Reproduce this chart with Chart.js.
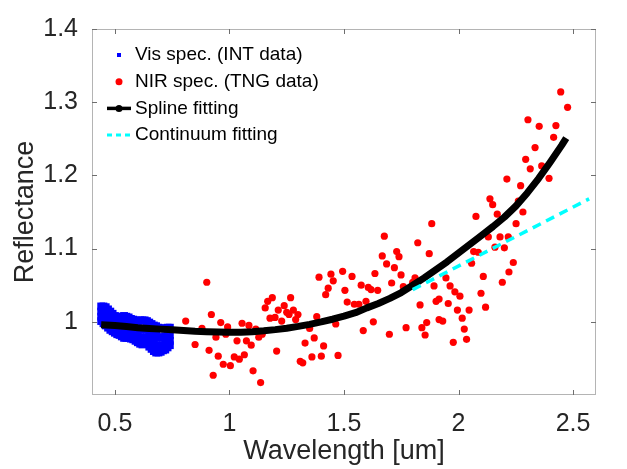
<!DOCTYPE html>
<html>
<head>
<meta charset="utf-8">
<script src="https://cdn.jsdelivr.net/npm/chart.js@4"></script>
<style>
  body { margin: 0; background: #fff; }
  #wrap { width: 627px; height: 469px; }
</style>
</head>
<body>
<div id="wrap"><canvas id="chart" width="627" height="469"></canvas></div>
<script>
// axis ticks
const xTicks = [0.5, 1, 1.5, 2, 2.5];
const yTicks = [1, 1.1, 1.2, 1.3, 1.4];

// Vis spectrum (INT) - dense cloud, four rows per wavelength
const visWave = [0.44, 0.45, 0.46, 0.47, 0.48, 0.49, 0.50, 0.51, 0.52, 0.53, 0.54, 0.55, 0.56, 0.57, 0.58, 0.59,
    0.60, 0.61, 0.62, 0.63, 0.64, 0.65, 0.66, 0.67, 0.68, 0.69, 0.70, 0.71, 0.72, 0.73, 0.74];
const visRow1 = [1.021, 1.021, 1.020, 1.017, 1.014, 1.011, 1.008, 1.007, 1.006, 1.007, 1.008, 1.007, 1.006, 1.004, 1.003, 1.002,
    1.001, 1.002, 1.002, 1.002, 1.001, 0.999, 0.997, 0.995, 0.994, 0.992, 0.991, 0.991, 0.991, 0.992, 0.992];
const visRow2 = [1.014, 1.012, 1.011, 1.008, 1.005, 1.002, 1.000, 0.998, 0.997, 0.997, 0.998, 0.996, 0.996, 0.994, 0.993, 0.991,
    0.990, 0.991, 0.990, 0.989, 0.989, 0.986, 0.984, 0.982, 0.981, 0.979, 0.978, 0.979, 0.980, 0.981, 0.982];
const visRow3 = [1.007, 1.004, 1.002, 0.999, 0.996, 0.993, 0.992, 0.990, 0.989, 0.987, 0.988, 0.986, 0.985, 0.985, 0.983, 0.981,
    0.980, 0.979, 0.978, 0.977, 0.977, 0.974, 0.972, 0.970, 0.968, 0.967, 0.967, 0.968, 0.970, 0.972, 0.974];
const visRow4 = [1.001, 0.998, 0.995, 0.992, 0.989, 0.987, 0.985, 0.983, 0.982, 0.980, 0.978, 0.978, 0.978, 0.977, 0.976, 0.974,
    0.972, 0.970, 0.969, 0.970, 0.970, 0.966, 0.963, 0.960, 0.958, 0.958, 0.959, 0.961, 0.962, 0.965, 0.968];

// NIR spectrum (TNG)
const nirWave = [0.809, 0.901, 0.850, 0.921, 0.880, 0.911, 0.951, 0.929, 0.962, 0.973,
    0.992, 0.984, 0.941, 1.004, 1.033, 1.021, 1.043, 1.055, 1.065, 1.074,
    1.085, 1.095, 1.103, 1.136, 1.128, 1.143, 1.156, 1.167, 1.187, 1.177,
    1.199, 1.206, 1.213, 1.115, 1.228, 1.239, 1.250, 1.260, 1.267, 1.279,
    1.289, 1.299, 1.309, 1.320, 1.330, 1.350, 1.360, 1.370, 1.381, 1.391,
    1.401, 1.411, 1.420, 1.431, 1.443, 1.453, 1.464, 1.474, 1.494, 1.504,
    1.514, 1.535, 1.545, 1.565, 1.575, 1.584, 1.596, 1.606, 1.618, 1.647,
    1.628, 1.635, 1.676, 1.667, 1.686, 1.698, 1.708, 1.720, 1.730, 1.740,
    1.749, 1.759, 1.771, 1.800, 1.810, 1.822, 1.832, 1.840, 1.854, 1.861,
    1.872, 1.883, 1.893, 1.902, 1.915, 1.915, 1.931, 1.945, 1.955, 1.963,
    1.977, 1.984, 1.995, 2.006, 2.016, 2.025, 2.035, 2.046, 2.057, 2.066,
    2.076, 2.086, 2.098, 2.108, 2.118, 2.130, 2.137, 2.149, 2.159, 2.169,
    2.181, 2.191, 2.200, 2.217, 2.220, 2.239, 2.211, 2.251, 2.261, 2.271,
    2.281, 2.293, 2.303, 2.313, 2.334, 2.352, 2.363, 2.395, 2.415, 2.425,
    2.446, 2.476];
const nirRefl = [1.001, 1.054, 0.969, 1.010, 0.991, 0.961, 0.953, 0.927, 0.999, 0.942,
    0.993, 0.983, 0.979, 0.940, 0.974, 0.952, 0.949, 0.998, 0.955, 0.974,
    0.995, 0.968, 0.933, 0.917, 0.979, 0.983, 1.019, 1.028, 1.033, 1.005,
    1.006, 0.960, 1.016, 0.990, 1.001, 1.022, 1.013, 1.010, 1.033, 1.016,
    1.003, 1.010, 0.946, 0.944, 0.971, 0.991, 0.952, 0.978, 1.007, 1.061,
    0.953, 0.967, 1.037, 1.046, 1.065, 1.056, 0.997, 0.954, 1.069, 1.043,
    1.027, 1.062, 1.024, 1.024, 1.050, 0.988, 1.028, 1.047, 1.044, 1.043,
    1.000, 1.066, 1.117, 1.090, 1.079, 0.983, 1.053, 1.074, 1.096, 1.089,
    1.064, 1.048, 0.992, 1.054, 1.060, 1.108, 1.023, 0.992, 0.982, 0.999,
    1.093, 1.134, 1.049, 1.028, 1.031, 1.003, 1.001, 1.060, 1.025, 1.049,
    0.972, 1.041, 1.016, 1.035, 1.005, 0.990, 0.976, 1.016, 1.080, 1.096,
    1.144, 1.095, 1.039, 1.062, 1.020, 1.116, 1.168, 1.160, 1.102, 1.147,
    1.116, 1.054, 1.101, 1.116, 1.068, 1.081, 1.195, 1.134, 1.165, 1.186,
    1.150, 1.222, 1.276, 1.209, 1.238, 1.267, 1.213, 1.196, 1.252, 1.268,
    1.314, 1.293];

// spline fit
const splineWave = [0.44, 0.50, 0.55, 0.60, 0.65, 0.70, 0.75, 0.80, 0.85, 0.90, 0.95, 1.00, 1.05, 1.10, 1.15, 1.20,
    1.25, 1.30, 1.35, 1.40, 1.45, 1.50, 1.55, 1.60, 1.65, 1.70, 1.75, 1.80, 1.85, 1.90, 1.95, 2.00,
    2.05, 2.10, 2.15, 2.20, 2.25, 2.30, 2.35, 2.40, 2.45, 2.47];
const splineRefl = [0.996, 0.995, 0.9935, 0.992, 0.991, 0.990, 0.989, 0.988, 0.987, 0.9864, 0.986, 0.9858, 0.9858, 0.9865, 0.9877, 0.9893,
    0.9913, 0.9937, 0.9965, 0.9998, 1.0035, 1.0077, 1.0125, 1.019, 1.025, 1.032, 1.040, 1.050, 1.060, 1.071, 1.082, 1.094,
    1.106, 1.118, 1.130, 1.143, 1.158, 1.176, 1.196, 1.218, 1.241, 1.251];

// continuum fit
const contWave = [1.80, 2.57];
const contRefl = [1.044, 1.168];

const toPts = (xs, ys) => xs.map((x, i) => ({ x: x, y: ys[i] }));
const visPts = [visRow1, visRow2, visRow3, visRow4].flatMap(row => toPts(visWave, row));

const tickColor = '#262626';
const fontFam = '"Liberation Sans", Arial, Helvetica, sans-serif';

// MATLAB-like box with inward ticks
const framePlugin = {
    id: 'frame',
    afterDatasetsDraw(chart) {
        const { ctx, chartArea: a, scales } = chart;
        ctx.save();
        ctx.lineWidth = 1;
        ctx.strokeStyle = '#b4b4b4';
        ctx.strokeRect(a.left + 0.5, a.top + 0.5, a.right - a.left - 1, a.bottom - a.top - 1);
        ctx.strokeStyle = '#6e6e6e';
        ctx.beginPath();
        scales.x.ticks.forEach(t => {
            const px = Math.round(scales.x.getPixelForValue(t.value)) + 0.5;
            ctx.moveTo(px, a.bottom); ctx.lineTo(px, a.bottom - 5);
            ctx.moveTo(px, a.top); ctx.lineTo(px, a.top + 5);
        });
        scales.y.ticks.forEach(t => {
            const py = Math.round(scales.y.getPixelForValue(t.value)) + 0.5;
            ctx.moveTo(a.left, py); ctx.lineTo(a.left + 5, py);
            ctx.moveTo(a.right, py); ctx.lineTo(a.right - 5, py);
        });
        ctx.stroke();
        ctx.restore();
    }
};

// legend in the upper-left corner of the axes, no box
const legendPlugin = {
    id: 'boxlessLegend',
    afterDraw(chart) {
        const { ctx, chartArea: a } = chart;
        const mx = a.left + 27, tx = a.left + 43;
        ctx.save();
        ctx.font = '19px ' + fontFam;
        ctx.textBaseline = 'middle';
        ctx.fillStyle = '#000';
        chart.data.datasets.forEach((ds, i) => {
            const y = a.top + 26 + i * 26.7;
            if (i === 0) {
                ctx.fillStyle = ds.backgroundColor;
                ctx.fillRect(mx - 2, y - 2, 4, 4);
            } else if (i === 1) {
                ctx.fillStyle = ds.backgroundColor;
                ctx.beginPath(); ctx.arc(mx, y, 3.5, 0, Math.PI * 2); ctx.fill();
            } else {
                ctx.strokeStyle = ds.borderColor;
                ctx.lineWidth = i === 2 ? 3.5 : 3;
                ctx.setLineDash(i === 3 ? [5, 4] : []);
                ctx.beginPath(); ctx.moveTo(mx - 12, y); ctx.lineTo(mx + 12, y); ctx.stroke();
                ctx.setLineDash([]);
                if (i === 2) {
                    ctx.fillStyle = ds.borderColor;
                    ctx.beginPath(); ctx.arc(mx, y, 3.5, 0, Math.PI * 2); ctx.fill();
                }
            }
            ctx.fillStyle = '#000';
            ctx.fillText(ds.label, tx, y);
        });
        ctx.restore();
    }
};

new Chart(document.getElementById('chart'), {
    type: 'scatter',
    data: {
        datasets: [
            {
                label: 'Vis spec. (INT data)',
                data: visPts,
                backgroundColor: '#0000ff',
                pointStyle: 'rect',
                pointRadius: 5.5,
                borderWidth: 0,
                order: 4
            },
            {
                label: 'NIR spec. (TNG data)',
                data: toPts(nirWave, nirRefl),
                backgroundColor: '#ff0000',
                pointRadius: 3.6,
                borderWidth: 0,
                order: 3
            },
            {
                label: 'Spline fitting',
                data: toPts(splineWave, splineRefl),
                showLine: true,
                borderColor: '#000000',
                backgroundColor: '#000000',
                borderWidth: 7,
                borderJoinStyle: 'round',
                pointRadius: 0,
                order: 2
            },
            {
                label: 'Continuum fitting',
                data: toPts(contWave, contRefl),
                showLine: true,
                borderColor: '#00ffff',
                borderWidth: 3.5,
                borderDash: [9, 6],
                pointRadius: 0,
                order: 1
            }
        ]
    },
    options: {
        responsive: false,
        animation: false,
        layout: { padding: { left: 0, top: 17, right: 31, bottom: 0 } },
        plugins: {
            legend: { display: false },
            tooltip: { enabled: false }
        },
        scales: {
            x: {
                type: 'linear',
                min: 0.4,
                max: 2.6,
                afterBuildTicks: scale => { scale.ticks = xTicks.map(v => ({ value: v })); },
                afterFit: scale => { scale.height = 74; },
                grid: { display: false, drawTicks: false },
                border: { display: false },
                ticks: {
                    padding: 14,
                    color: tickColor,
                    font: { family: fontFam, size: 25 },
                    maxRotation: 0,
                    callback: v => String(v)
                },
                title: {
                    display: true,
                    text: 'Wavelength [um]',
                    color: tickColor,
                    font: { family: fontFam, size: 27 },
                    padding: { top: 0, bottom: 1 }
                }
            },
            y: {
                type: 'linear',
                min: 0.9,
                max: 1.4,
                afterBuildTicks: scale => { scale.ticks = yTicks.map(v => ({ value: v })); },
                afterFit: scale => { scale.width = 92; },
                grid: { display: false, drawTicks: false },
                border: { display: false },
                ticks: {
                    padding: 14,
                    color: tickColor,
                    font: { family: fontFam, size: 25 },
                    callback: v => String(v)
                },
                title: {
                    display: true,
                    text: 'Reflectance',
                    color: tickColor,
                    font: { family: fontFam, size: 27 },
                    padding: { top: 9, bottom: 0 }
                }
            }
        }
    },
    plugins: [framePlugin, legendPlugin]
});
</script>
</body>
</html>
